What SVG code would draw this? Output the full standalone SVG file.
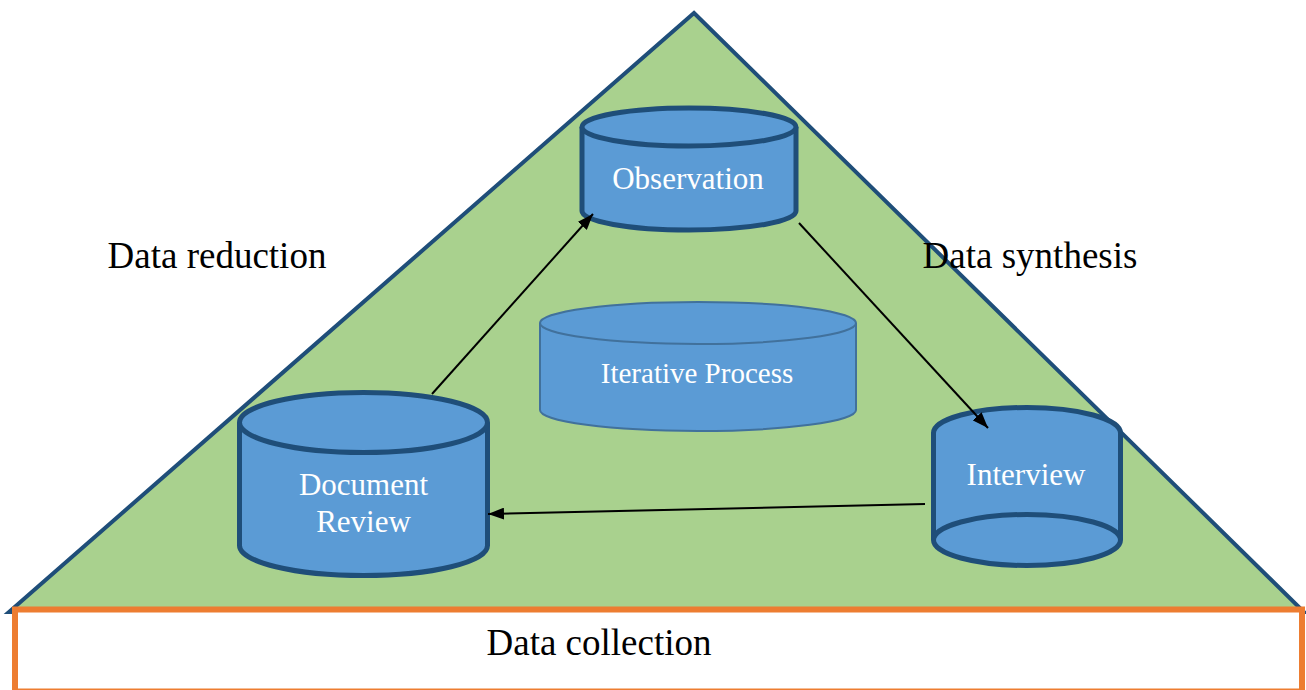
<svg xmlns="http://www.w3.org/2000/svg" width="1306" height="690" viewBox="0 0 1306 690">
  <style>
    .label { font-family: "Liberation Serif", "Times New Roman", serif; font-size: 37px; fill: #000000; text-anchor: middle; }
    .node-text { font-family: "Liberation Serif", "Times New Roman", serif; font-size: 31px; fill: #ffffff; text-anchor: middle; }
    .cyl { fill: #5B9BD5; stroke: #1F4E79; stroke-width: 5; stroke-linejoin: round; }
    .cyl-thin { fill: #5B9BD5; stroke: #41719C; stroke-width: 2; }
    .conn { stroke: #000000; stroke-width: 2; fill: none; marker-end: url(#arrow); }
  </style>
  <defs>
    <marker id="arrow" markerUnits="userSpaceOnUse" markerWidth="16" markerHeight="12" refX="16" refY="6" orient="auto">
      <path d="M0,0 L16,6 L0,12 Z" fill="#000000"/>
    </marker>
  </defs>

  <rect width="1306" height="690" fill="#ffffff"/>

  <!-- triangle backdrop -->
  <g id="triangle">
    <polygon points="694,13 1304,612 9,612" fill="#A9D18E" stroke="#1F4E79" stroke-width="4" stroke-linejoin="miter"/>
  </g>

  <!-- base band -->
  <g id="data-collection">
    <rect x="15" y="609.5" width="1287" height="82" fill="#ffffff" stroke="#ED7D31" stroke-width="6"/>
    <text class="label" x="599" y="655">Data collection</text>
  </g>

  <g id="data-reduction">
    <text class="label" x="217" y="268">Data reduction</text>
  </g>

  <g id="data-synthesis">
    <text class="label" x="1030" y="268">Data synthesis</text>
  </g>

  <!-- center cylinder -->
  <g id="iterative-process">
    <path class="cyl-thin" d="M540,323 L540,410 A158,21 0 0 0 856,410 L856,323"/>
    <ellipse class="cyl-thin" cx="698" cy="323" rx="158" ry="21"/>
    <text class="node-text" x="697" y="383" style="font-size:29px">Iterative Process</text>
  </g>

  <g id="observation">
    <path class="cyl" d="M582,127 L582,211 A107,19 0 0 0 796,211 L796,127"/>
    <ellipse class="cyl" cx="689" cy="127" rx="107" ry="19"/>
    <text class="node-text" x="688" y="189">Observation</text>
  </g>

  <g id="document-review">
    <path class="cyl" d="M239.5,422.5 L239.5,545.5 A124,30 0 0 0 487.5,545.5 L487.5,422.5"/>
    <ellipse class="cyl" cx="363.5" cy="422.5" rx="124" ry="30"/>
    <text class="node-text" x="363.5" y="495">Document</text>
    <text class="node-text" x="363.5" y="532">Review</text>
  </g>

  <!-- drawn with its open ellipse at the bottom -->
  <g id="interview">
    <path class="cyl" d="M933.5,540 L933.5,433 A93.5,25.5 0 0 1 1120.5,433 L1120.5,540"/>
    <ellipse class="cyl" cx="1027" cy="540" rx="93.5" ry="25.5"/>
    <text class="node-text" x="1026" y="485">Interview</text>
  </g>

  <g id="connectors">
    <line class="conn" x1="432" y1="394" x2="593" y2="214"/>
    <line class="conn" x1="799" y1="223" x2="988" y2="428"/>
    <line class="conn" x1="925" y1="504" x2="488" y2="514"/>
  </g>
</svg>
